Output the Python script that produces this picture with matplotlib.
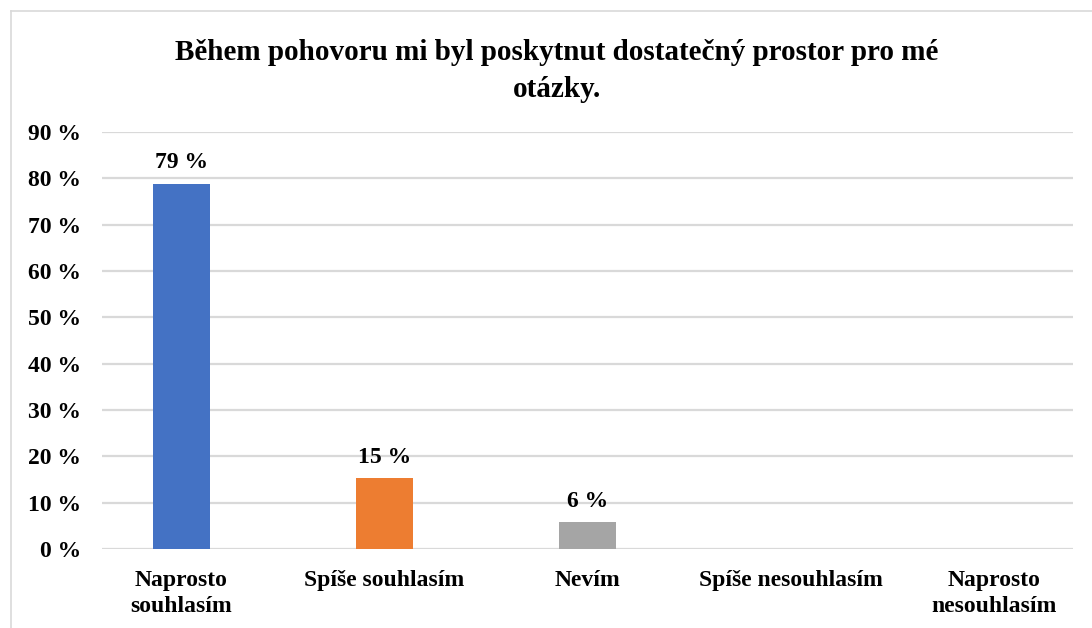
import matplotlib
matplotlib.use("Agg")
import matplotlib.pyplot as plt
from matplotlib.lines import Line2D

categories = ["Naprosto\nsouhlasím", "Spíše souhlasím", "Nevím", "Spíše nesouhlasím", "Naprosto\nnesouhlasím"]
values = [78.85, 15.38, 5.77, 0.0, 0.0]
colors = ["#4472C4", "#ED7D31", "#A5A5A5", "#FFC000", "#5B9BD5"]
yticks = [0, 10, 20, 30, 40, 50, 60, 70, 80, 90]
ytick_labels = [f"{t} %" for t in yticks]
title = "Během pohovoru mi byl poskytnut dostatečný prostor pro mé\notázky."

plt.rcParams['font.family'] = ['Liberation Serif', 'DejaVu Serif']
plt.rcParams['font.weight'] = 'bold'

W, H = 1092, 628
fig = plt.figure(figsize=(W / 100, H / 100), dpi=100)
ax = fig.add_axes([102 / W, (H - 549) / H, (1073 - 102) / W, (549 - 132) / H])

x = list(range(len(categories)))
ax.bar(x, values, width=0.28, color=colors, zorder=3)

for xi, v in zip(x, values):
    if v > 0:
        ax.text(xi, v + 2.2, f"{v:.0f} %", ha="center", va="bottom",
                fontsize=17, fontweight="bold", color="black")

ax.set_xlim(-0.39, 4.39)
ax.set_ylim(0, 90)
ax.set_yticks(yticks)
ax.set_yticklabels(ytick_labels, fontsize=17, fontweight="bold")
ax.set_xticks(x)
ax.set_xticklabels(categories, fontsize=17, fontweight="bold", linespacing=1.35)
ax.tick_params(axis="both", length=0)
ax.tick_params(axis="y", pad=15)
ax.tick_params(axis="x", pad=15)
ax.yaxis.grid(True, color="#D9D9D9", linewidth=1.6, zorder=0)
for s in ax.spines.values():
    s.set_visible(False)

fig.text(557 / W, 1 - 71 / H, title, ha="center", va="center",
         fontsize=21, fontweight="bold", linespacing=1.45)

# chart area border (left and top visible)
fig.add_artist(Line2D([10.5 / W, 10.5 / W], [0, 1 - 10.5 / H], color="#D9D9D9", linewidth=1.2))
fig.add_artist(Line2D([10.5 / W, 1], [1 - 10.5 / H, 1 - 10.5 / H], color="#D9D9D9", linewidth=1.2))

fig.savefig("out.png", dpi=100)
